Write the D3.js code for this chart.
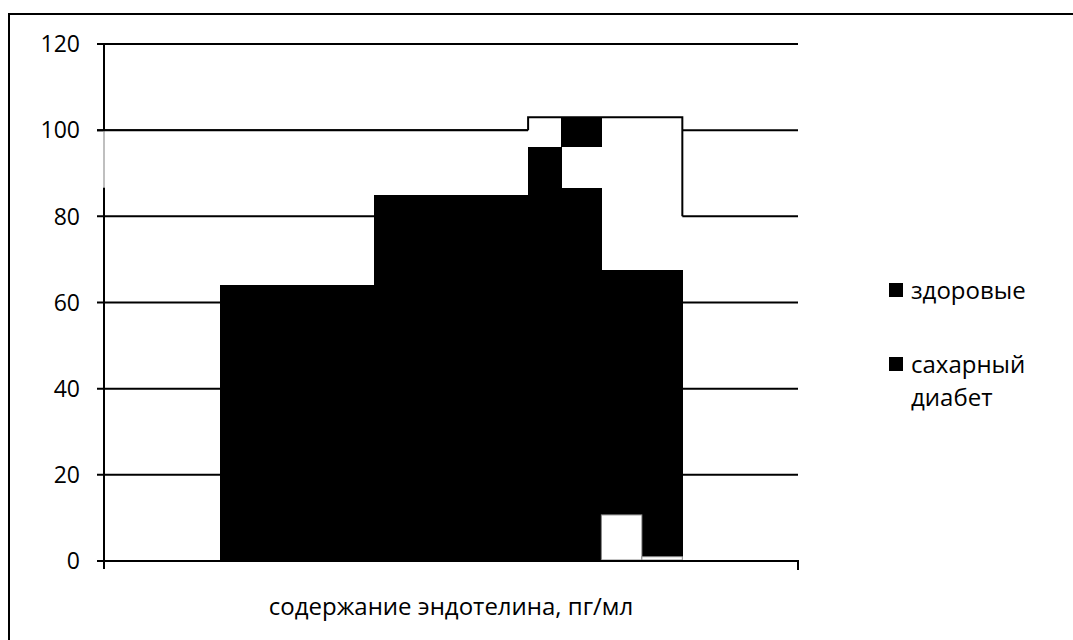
<!DOCTYPE html>
<html>
<head>
<meta charset="utf-8">
<script src="https://cdn.jsdelivr.net/npm/d3@7"></script>
<style>
  html, body { margin: 0; padding: 0; background: #fff; }
  svg text { font-family: "Open Sans", "Noto Sans", sans-serif; fill: #000; }
</style>
</head>
<body>
<div id="draw_svg"></div>
<script>
// значения оси Y
const yTicks = [0, 20, 40, 60, 80, 100, 120];

// границы ступеней по оси X (условные единицы)
const xDomain = [0, 18];

// чёрные ступени: [от, до, низ, верх]
const blackBars = [
    [3, 7, 0, 64],
    [7, 11, 0, 85],
    [11, 11.85, 0, 96],
    [11.85, 12.9, 0, 86.5],
    [11.85, 12.9, 96, 103],
    [12.9, 13.95, 10.7, 67.5],
    [13.95, 15, 1, 67.5]
];

// белые "шапки" и белые нижние прямоугольники
const whiteCaps = [
    [0, 11, 86.7, 100],
    [11, 15, 67.5, 103]
];
const whiteLow = [
    [12.9, 13.95, 0, 10.7],
    [13.95, 15, 0, 1]
];

const legendLabels = [["здоровые"], ["сахарный", "диабет"]];
const xTitle = "содержание эндотелина, пг/мл";

/**
 * построение графика
 */
drawChart = () => {
    const W = 1073, H = 640;
    const plot = {left: 104, right: 798, top: 44, bottom: 561};

    const svg = d3.select('#draw_svg')
        .append('svg')
        .attr('width', W)
        .attr('height', H);

    // рамка
    svg.append('rect')
        .attr('x', 9).attr('y', 14)
        .attr('width', W + 10).attr('height', H + 10)
        .attr('fill', 'none')
        .attr('stroke', '#000')
        .attr('stroke-width', 2);

    const x = d3.scaleLinear().domain(xDomain).range([plot.left, plot.right]);
    const y = d3.scaleLinear().domain([0, 120]).range([plot.bottom, plot.top]);

    // сетка
    svg.append('g')
        .selectAll('line')
        .data(yTicks.filter(d => d > 0))
        .enter()
        .append('line')
        .attr('x1', plot.left - 7)
        .attr('x2', plot.right)
        .attr('y1', d => y(d))
        .attr('y2', d => y(d))
        .attr('stroke', '#000')
        .attr('stroke-width', 2);

    // ось Y
    svg.append('line')
        .attr('x1', plot.left).attr('x2', plot.left)
        .attr('y1', y(120)).attr('y2', plot.bottom + 8)
        .attr('stroke', '#000').attr('stroke-width', 2);

    // подписи оси Y
    svg.append('g')
        .selectAll('text')
        .data(yTicks)
        .enter()
        .append('text')
        .attr('x', 80)
        .attr('y', d => y(d))
        .attr('dy', '0.36em')
        .attr('text-anchor', 'end')
        .style('font-size', '23px')
        .text(d => d);

    // белые шапки
    svg.append('g')
        .selectAll('rect')
        .data(whiteCaps)
        .enter()
        .append('rect')
        .attr('x', d => x(d[0]) - 1)
        .attr('width', d => x(d[1]) - x(d[0]) + 1)
        .attr('y', d => y(d[3]))
        .attr('height', d => y(d[2]) - y(d[3]))
        .attr('fill', '#fff');

    // серый край слева у первой шапки
    svg.append('line')
        .attr('x1', x(whiteCaps[0][0])).attr('x2', x(whiteCaps[0][0]))
        .attr('y1', y(whiteCaps[0][3])).attr('y2', y(whiteCaps[0][2]))
        .attr('stroke', '#aaa').attr('stroke-width', 1.5);

    // верхний край первой шапки
    svg.append('line')
        .attr('x1', x(whiteCaps[0][0]) - 7).attr('x2', x(whiteCaps[0][1]))
        .attr('y1', y(whiteCaps[0][3])).attr('y2', y(whiteCaps[0][3]))
        .attr('stroke', '#000').attr('stroke-width', 2);

    // контур второй шапки
    const c2 = whiteCaps[1];
    svg.append('path')
        .attr('d', `M${x(c2[0])},${y(100)}V${y(c2[3])}H${x(c2[1])}V${y(80)}`)
        .attr('fill', 'none')
        .attr('stroke', '#000')
        .attr('stroke-width', 2);

    // чёрные ступени
    svg.append('g')
        .attr('shape-rendering', 'crispEdges')
        .selectAll('rect')
        .data(blackBars)
        .enter()
        .append('rect')
        .attr('x', d => Math.round(x(d[0])))
        .attr('width', d => Math.round(x(d[1])) - Math.round(x(d[0])) + 1)
        .attr('y', d => Math.round(y(d[3])))
        .attr('height', d => Math.round(y(d[2])) - Math.round(y(d[3])))
        .attr('fill', '#000');

    // белые нижние прямоугольники
    svg.append('g')
        .selectAll('rect')
        .data(whiteLow)
        .enter()
        .append('rect')
        .attr('x', d => x(d[0]))
        .attr('width', d => x(d[1]) - x(d[0]))
        .attr('y', d => y(d[3]))
        .attr('height', d => y(d[2]) - y(d[3]) - 1)
        .attr('fill', '#fff')
        .attr('stroke', '#888')
        .attr('stroke-width', 1);

    // ось X
    svg.append('path')
        .attr('d', `M${plot.left - 7},${plot.bottom}H${plot.right}V${plot.bottom + 9}`)
        .attr('fill', 'none')
        .attr('stroke', '#000')
        .attr('stroke-width', 2);

    svg.append('text')
        .attr('x', (plot.left + plot.right) / 2)
        .attr('y', 615)
        .attr('text-anchor', 'middle')
        .style('font-size', '24px')
        .text(xTitle);

    // легенда
    const legendY = [290, 364];
    const lg = svg.append('g')
        .selectAll('g')
        .data(legendLabels)
        .enter()
        .append('g')
        .attr('transform', (d, i) => `translate(889,${legendY[i]})`);

    lg.append('rect')
        .attr('x', 0).attr('y', -7)
        .attr('width', 14).attr('height', 14)
        .attr('fill', '#000');

    lg.each(function (d) {
        const t = d3.select(this).append('text')
            .attr('x', 22)
            .attr('y', 0)
            .style('font-size', '24px');
        d.forEach((line, j) => {
            t.append('tspan')
                .attr('x', 22)
                .attr('y', j * 33)
                .attr('dy', '0.36em')
                .text(line);
        });
    });
}

window.onload = () => {
    drawChart();
}
</script>
</body>
</html>
